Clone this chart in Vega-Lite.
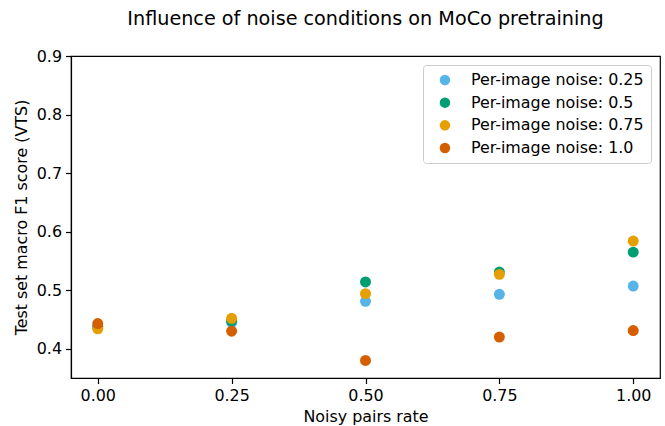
{
  "$schema": "https://vega.github.io/schema/vega-lite/v6.json",
  "autosize": "none",
  "padding": {"left": 71, "top": 56, "right": 5, "bottom": 48},
  "width": 589,
  "height": 322,
  "title": {
    "text": "Influence of noise conditions on MoCo pretraining",
    "font": "DejaVu Sans",
    "fontSize": 19.2,
    "fontWeight": "normal",
    "color": "black",
    "anchor": "middle",
    "offset": 19
  },
  "data": {
    "values": [
      {"rate": 0.0, "f1": 0.437, "series": "Per-image noise: 0.25"},
      {"rate": 0.25, "f1": 0.445, "series": "Per-image noise: 0.25"},
      {"rate": 0.5, "f1": 0.481, "series": "Per-image noise: 0.25"},
      {"rate": 0.75, "f1": 0.493, "series": "Per-image noise: 0.25"},
      {"rate": 1.0, "f1": 0.507, "series": "Per-image noise: 0.25"},
      {"rate": 0.0, "f1": 0.438, "series": "Per-image noise: 0.5"},
      {"rate": 0.25, "f1": 0.447, "series": "Per-image noise: 0.5"},
      {"rate": 0.5, "f1": 0.514, "series": "Per-image noise: 0.5"},
      {"rate": 0.75, "f1": 0.531, "series": "Per-image noise: 0.5"},
      {"rate": 1.0, "f1": 0.565, "series": "Per-image noise: 0.5"},
      {"rate": 0.0, "f1": 0.434, "series": "Per-image noise: 0.75"},
      {"rate": 0.25, "f1": 0.452, "series": "Per-image noise: 0.75"},
      {"rate": 0.5, "f1": 0.494, "series": "Per-image noise: 0.75"},
      {"rate": 0.75, "f1": 0.527, "series": "Per-image noise: 0.75"},
      {"rate": 1.0, "f1": 0.584, "series": "Per-image noise: 0.75"},
      {"rate": 0.0, "f1": 0.443, "series": "Per-image noise: 1.0"},
      {"rate": 0.25, "f1": 0.430, "series": "Per-image noise: 1.0"},
      {"rate": 0.5, "f1": 0.380, "series": "Per-image noise: 1.0"},
      {"rate": 0.75, "f1": 0.420, "series": "Per-image noise: 1.0"},
      {"rate": 1.0, "f1": 0.431, "series": "Per-image noise: 1.0"}
    ]
  },
  "mark": {"type": "point", "filled": true, "opacity": 1, "size": 120, "shape": "circle"},
  "encoding": {
    "x": {
      "field": "rate",
      "type": "quantitative",
      "title": "Noisy pairs rate",
      "scale": {"domain": [-0.05, 1.05], "nice": false, "zero": false},
      "axis": {"values": [0, 0.25, 0.5, 0.75, 1.0], "format": ".2f"}
    },
    "y": {
      "field": "f1",
      "type": "quantitative",
      "title": "Test set macro F1 score (VTS)",
      "scale": {"domain": [0.35, 0.9], "nice": false, "zero": false},
      "axis": {"values": [0.4, 0.5, 0.6, 0.7, 0.8, 0.9], "format": ".1f", "titlePadding": 7}
    },
    "color": {
      "field": "series",
      "type": "nominal",
      "scale": {
        "domain": ["Per-image noise: 0.25", "Per-image noise: 0.5", "Per-image noise: 0.75", "Per-image noise: 1.0"],
        "range": ["#56B4E9", "#009E73", "#E69F00", "#D55E00"]
      },
      "legend": {
        "title": null,
        "orient": "top-right",
        "offset": 9,
        "padding": 7,
        "symbolOffset": 7,
        "symbolSize": 110,
        "symbolType": "circle",
        "labelOffset": 18,
        "labelLimit": 400,
        "rowPadding": 5.7,
        "labelFontSize": 15.9,
        "labelFont": "DejaVu Sans",
        "labelColor": "black",
        "strokeColor": "#cccccc",
        "fillColor": "white",
        "cornerRadius": 3
      }
    }
  },
  "config": {
    "view": {"stroke": "black", "strokeWidth": 1.2},
    "axis": {
      "grid": false,
      "domainColor": "black",
      "domainWidth": 1.2,
      "tickColor": "black",
      "tickWidth": 1.2,
      "tickSize": 5.5,
      "labelPadding": 4,
      "labelFont": "DejaVu Sans",
      "labelFontSize": 15.9,
      "labelColor": "black",
      "titleFont": "DejaVu Sans",
      "titleFontSize": 15.9,
      "titleFontWeight": "normal",
      "titleColor": "black",
      "titlePadding": 5
    }
  }
}
